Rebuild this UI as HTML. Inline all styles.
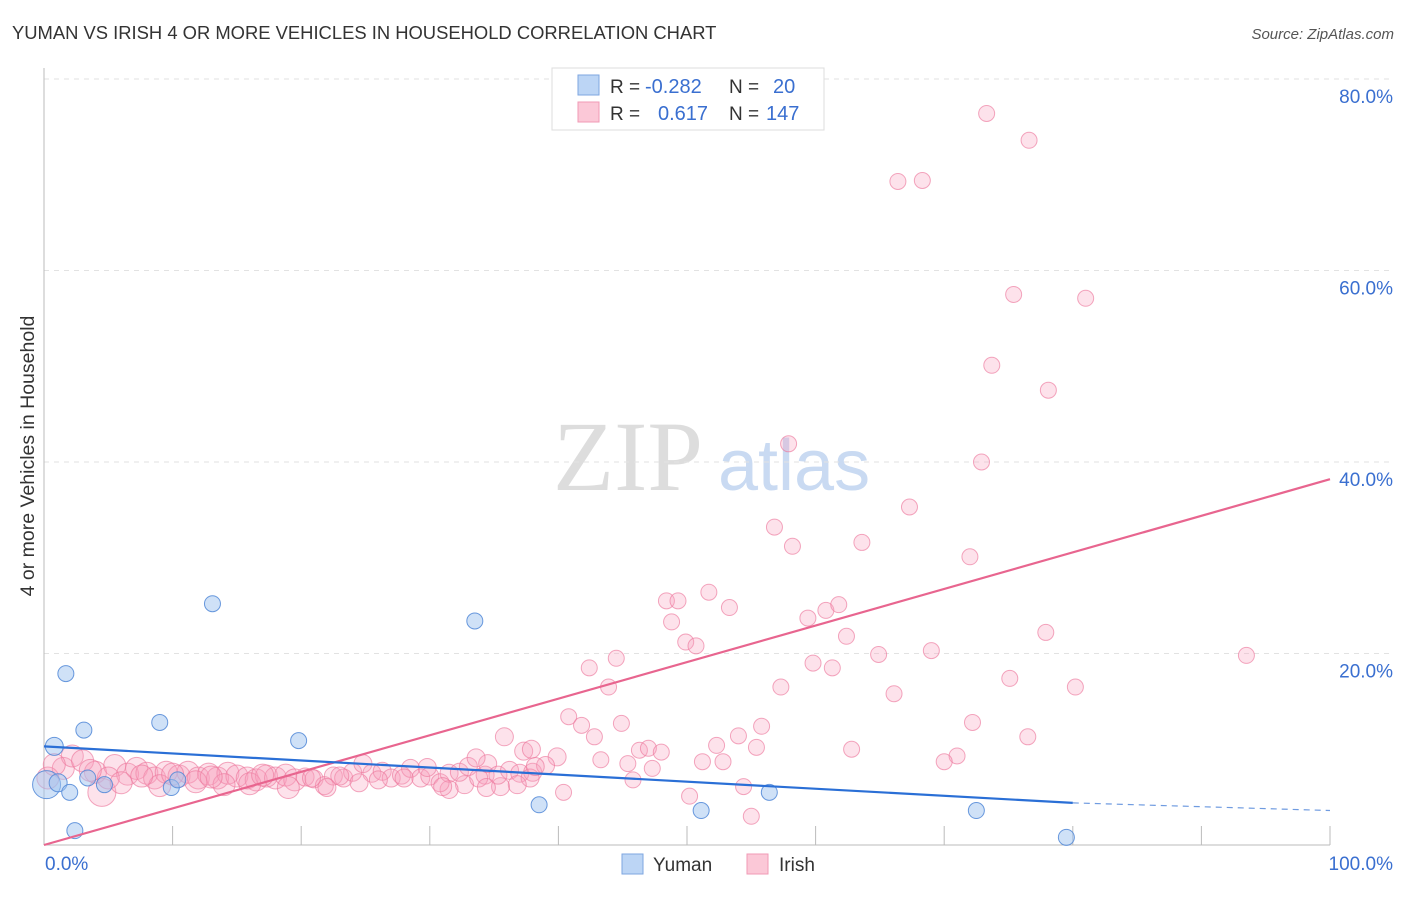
<!DOCTYPE html>
<html><head><meta charset="utf-8"><style>
body{margin:0;background:#fff;font-family:"Liberation Sans",sans-serif}
svg text{font-family:"Liberation Sans",sans-serif}
</style></head><body>
<svg id="chart" width="1406" height="892" xmlns="http://www.w3.org/2000/svg">
<text x="12" y="39" font-size="18.4" fill="#333">YUMAN VS IRISH 4 OR MORE VEHICLES IN HOUSEHOLD CORRELATION CHART</text>
<text x="1394" y="39" font-size="15" fill="#555" text-anchor="end" font-style="italic">Source: ZipAtlas.com</text>
<text transform="translate(34,456) rotate(-90)" font-size="19.5" fill="#333" text-anchor="middle">4 or more Vehicles in Household</text>
<g>
<text x="553" y="490" font-size="100" fill="#ddd" style="font-family:'Liberation Serif',serif">ZIP</text>
<text x="718" y="490" font-size="72" fill="#c9daf2">atlas</text>
</g>
<g id="grid"></g>
<g id="axes"></g>
<g id="pts"></g>
<g id="lines"></g>
<g>
<rect x="552" y="68" width="272" height="62" fill="#fff" stroke="#ddd"/>
<rect x="578" y="75" width="21" height="20" fill="#bcd5f5" stroke="#7ea6e0"/>
<rect x="578" y="102" width="21" height="20" fill="#fbc8d7" stroke="#f09ab5"/>
<text x="610" y="93" font-size="19" fill="#333">R =</text>
<text x="645" y="93" font-size="20" fill="#3a6fd0">-0.282</text>
<text x="729" y="93" font-size="19" fill="#333">N =</text>
<text x="773" y="93" font-size="20" fill="#3a6fd0">20</text>
<text x="610" y="120" font-size="19" fill="#333">R =</text>
<text x="658" y="120" font-size="20" fill="#3a6fd0">0.617</text>
<text x="729" y="120" font-size="19" fill="#333">N =</text>
<text x="766" y="120" font-size="20" fill="#3a6fd0">147</text>
</g>
<g>
<rect x="622" y="854" width="21" height="20" fill="#bcd5f5" stroke="#7ea6e0"/>
<text x="653" y="871" font-size="19" fill="#333">Yuman</text>
<rect x="747" y="854" width="21" height="20" fill="#fbc8d7" stroke="#f09ab5"/>
<text x="779" y="871" font-size="19" fill="#333">Irish</text>
</g>
</svg>
<script>
const yumanX=[0.2,0.8,1.1,1.7,2.0,2.4,3.1,3.4,4.7,9.0,9.9,10.4,13.1,19.8,33.5,38.5,51.1,56.4,72.5,79.5];
const yumanY=[6.3,10.3,6.5,17.9,5.5,1.5,12.0,7.0,6.3,12.8,6.0,6.8,25.2,10.9,23.4,4.2,3.6,5.5,3.6,0.8];
const yumanR=[14,9,9,8,8,8,8,8,8,8,8,8,8,8,8,8,8,8,8,8];
const irishX=[73.3,76.6,66.4,68.3,75.4,81.0,73.7,78.1,57.9,72.9,67.3,56.8,58.2,63.6,72.0,48.4,49.3,51.7,53.3,48.8,59.4,60.8,61.8,49.9,50.7,62.4,77.9,42.4,44.5,43.9,59.8,61.3,64.9,69.0,93.5,57.3,66.1,75.1,80.2,40.8,41.8,44.9,72.2,55.8,35.8,42.8,54.0,52.3,55.4,62.8,76.5,37.3,37.9,39.9,46.3,47.0,48.0,43.3,45.4,51.2,52.8,71.0,70.0,47.3,45.8,50.2,40.4,55.0,54.4,35.5,34.3,32.7,31.5,
1.5,2.2,3.0,4.0,4.5,5.5,6.5,7.2,8.0,8.6,9.5,10.5,11.2,12.0,12.8,13.5,14.3,15.0,15.8,16.5,17.3,18.0,18.8,19.5,20.3,21.0,21.8,22.5,23.3,24.0,24.8,25.5,26.3,27.0,27.8,28.5,29.3,30.0,30.8,31.5,32.3,33.0,33.8,34.5,35.3,36.2,37.0,38.0,39.0,24.5,19.0,14.0,5.0,0.3,0.8,6.0,9.0,11.8,16.0,26.0,28.0,31.0,37.8,33.6,34.4,36.8,38.2,22.0,29.8,3.6,7.6,10.0,13.0,17.0,20.8,23.0];
const irishY=[76.4,73.6,69.3,69.4,57.5,57.1,50.1,47.5,41.9,40.0,35.3,33.2,31.2,31.6,30.1,25.5,25.5,26.4,24.8,23.3,23.7,24.5,25.1,21.2,20.8,21.8,22.2,18.5,19.5,16.5,19.0,18.5,19.9,20.3,19.8,16.5,15.8,17.4,16.5,13.4,12.5,12.7,12.8,12.4,11.3,11.3,11.4,10.4,10.2,10.0,11.3,9.8,10.0,9.2,9.9,10.1,9.7,8.9,8.5,8.7,8.7,9.3,8.7,8.0,6.8,5.1,5.5,3.0,6.1,6.1,7.3,6.3,5.8,
8.0,9.3,8.8,7.6,5.5,8.3,7.4,8.0,7.5,7.0,7.6,7.2,7.6,7.0,7.4,7.0,7.5,7.2,7.0,6.8,7.2,7.0,7.3,6.8,7.1,6.9,6.2,7.2,7.0,7.6,8.5,7.5,7.7,7.0,7.3,8.0,7.0,7.2,6.5,7.5,7.6,8.2,7.0,8.5,7.3,7.8,7.5,7.6,8.3,6.5,6.0,6.3,7.0,7.0,8.4,6.5,6.2,6.6,6.4,6.8,7.0,6.1,7.0,9.1,6.0,6.3,8.2,6.0,8.1,7.8,7.2,7.4,7.1,7.3,7.0,7.2];
const irishR=[];
const yTicks=[20,40,60,80];
const yTickLabels=["20.0%","40.0%","60.0%","80.0%"];
const xTicks=[0,10,20,30,40,50,60,70,80,90,100];
const yumanTrend=[10.3,4.4,3.6]; // at x=0, 80, 100
const irishTrend=[0,38.2];
const NS="http://www.w3.org/2000/svg";
const X0=44,X1=1330,Y0=845,PY=9.575;
const sx=v=>X0+(X1-X0)*v/100, sy=v=>Y0-PY*v;
function mk(t,a,p){const e=document.createElementNS(NS,t);for(const k in a)e.setAttribute(k,a[k]);p.appendChild(e);return e;}
const grid=document.getElementById('grid'),axes=document.getElementById('axes'),pts=document.getElementById('pts'),lines=document.getElementById('lines');
yTicks.forEach((t,i)=>{
 const g=mk('line',{x1:X0,x2:1393,y1:sy(t),y2:sy(t),stroke:'#e2e2e2','stroke-dasharray':'5,5'},grid);
 
 
 const l=mk('text',{x:1393,y:sy(t)+24,'font-size':19,fill:'#3a6fd0','text-anchor':'end'},axes);
 l.textContent=yTickLabels[i];
 
 
});
const ya=mk('line',{x1:X0,x2:X0,y1:68,y2:Y0,stroke:'#bbb'},axes);


const xa=mk('line',{x1:X0,x2:X1,y1:Y0,y2:Y0,stroke:'#bbb'},axes);


xTicks.forEach(t=>{const tk=mk('line',{x1:sx(t),x2:sx(t),y1:Y0-19,y2:Y0,stroke:'#bbb'},axes);
 
 });
const l0=mk('text',{x:45,y:870,'font-size':19,fill:'#3a6fd0'},axes);l0.textContent='0.0%';


const l1=mk('text',{x:1393,y:870,'font-size':19,fill:'#3a6fd0','text-anchor':'end'},axes);l1.textContent='100.0%';


irishX.forEach((x,i)=>{
 let r=irishR[i]||(x<20?11:(x<40?9:8));
 if(x===4.5&&irishY[i]===5.5)r=14;
 const c=mk('circle',{cx:sx(x),cy:sy(irishY[i]),r:r,fill:'rgba(248,160,188,0.3)',stroke:'rgba(236,120,156,0.65)','stroke-width':1},pts);
 
 
});
yumanX.forEach((x,i)=>{
 const c=mk('circle',{cx:sx(x),cy:sy(yumanY[i]),r:yumanR[i],fill:'rgba(160,195,240,0.5)',stroke:'rgba(80,135,215,0.85)','stroke-width':1},pts);
 
 
});
const ti=mk('line',{x1:sx(0),y1:sy(irishTrend[0]),x2:sx(100),y2:sy(irishTrend[1]),stroke:'#e8658f','stroke-width':2.2},lines);


const ty=mk('line',{x1:sx(0),y1:sy(yumanTrend[0]),x2:sx(80),y2:sy(yumanTrend[1]),stroke:'#2a6fd6','stroke-width':2.2},lines);


const td=mk('line',{x1:sx(80),y1:sy(yumanTrend[1]),x2:sx(100),y2:sy(yumanTrend[2]),stroke:'#6f9be0','stroke-width':1.2,'stroke-dasharray':'6,5'},lines);


</script>
</body></html>
